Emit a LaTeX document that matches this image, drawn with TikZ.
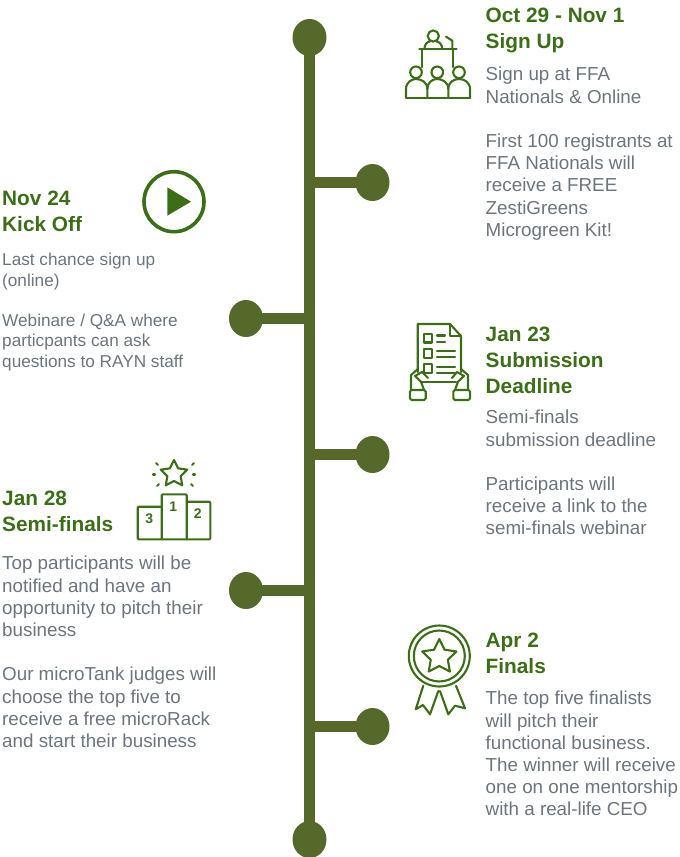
\documentclass[tikz,border=0pt]{standalone}
\usepackage{fontspec}
\setmainfont{Liberation Sans}
\usetikzlibrary{calc,shapes.geometric}
\definecolor{spine}{HTML}{55692B}
\definecolor{leaf}{HTML}{3B6E17}
\definecolor{body}{HTML}{6C757D}
\tikzset{
  x=1pt,y=-1pt,
  dot/.style={ellipse,fill=spine,minimum width=34pt,minimum height=37pt,inner sep=0pt},
  bar/.style={draw=spine,line width=11.5pt},
  ttl/.style={anchor=north west,inner sep=0pt,text=leaf,align=left,font=\fontsize{20.8}{26}\selectfont\bfseries},
  txt/.style={anchor=north west,inner sep=0pt,text=body,align=left,font=\fontsize{18.8}{22.2}\selectfont},
  txtsmall/.style={anchor=north west,inner sep=0pt,text=body,align=left,font=\fontsize{17.2}{20.5}\selectfont},
  ico/.style={draw=leaf,line width=2.1pt,line join=round,line cap=round,fill=none},
  num/.style={text=leaf,inner sep=0pt,font=\fontsize{14}{14}\selectfont\bfseries},
}
\newcommand{\starpath}[3]{% cx cy r
  \draw[ico] ($(#1,#2)+(-90:#3)$)
  \foreach \k in {1,...,9}{ -- ($(#1,#2)+({-90+36*\k}:{#3*(0.5+0.5*mod(\k+1,2))})$)} -- cycle;}
\begin{document}
\begin{tikzpicture}
\useasboundingbox (0,0) rectangle (680,857);
% timeline
\node[dot] (top) at (309.5,37.5) {};
\node[dot] (bot) at (309.5,839.5) {};
\node[dot] (d1) at (372.5,182.5) {};
\node[dot] (d2) at (246,318.5) {};
\node[dot] (d3) at (372.5,454.5) {};
\node[dot] (d4) at (246,590.5) {};
\node[dot] (d5) at (372.5,726.5) {};
\draw[bar] (top.center) -- (bot.center);
\foreach \d in {d1,d2,d3,d4,d5}{\draw[bar] (\d.center) -- (\d.center -| top);}
% texts
\node[ttl] (t1) at (485.5,8) {Oct 29 - Nov 1\\Sign Up};
\node[txt] (b1) at (485.5,67) {Sign up at FFA\\Nationals \& Online\\[22.2pt]First 100 registrants at\\FFA Nationals will\\receive a FREE\\ZestiGreens\\Microgreen Kit!};
\node[ttl] (t2) at (2,191) {Nov 24\\Kick Off};
\node[txtsmall] (b2) at (2,253) {Last chance sign up\\(online)\\[19.5pt]Webinare / Q\&A where\\particpants can ask\\questions to RAYN staff};
\node[ttl] (t3) at (485.5,327) {Jan 23\\Submission\\Deadline};
\node[txt] (b3) at (485.5,410) {Semi-finals\\submission deadline\\[22.2pt]Participants will\\receive a link to the\\semi-finals webinar};
\node[ttl] (t4) at (2,491) {Jan 28\\Semi-finals};
\node[txt] (b4) at (2,556) {Top participants will be\\notified and have an\\opportunity to pitch their\\business\\[22.2pt]Our microTank judges will\\choose the top five to\\receive a free microRack\\and start their business};
\node[ttl] (t5) at (485.5,633) {Apr 2\\Finals};
\node[txt] (b5) at (485.5,691) {The top five finalists\\will pitch their\\functional business.\\The winner will receive\\one on one mentorship\\with a real-life CEO};
% icon 1: audience
\draw[ico] (433.3,36) circle (5.6);
\draw[ico] (424.3,49.3) .. controls (424.5,43.5) and (428,41.5) .. (430,41.5);
\draw[ico] (442.3,49.3) .. controls (442,43.5) and (438.5,41.5) .. (436.5,41.5);
\draw[ico] (419.3,49.3) -- (456.7,49.3);
\draw[ico] (422.3,49.3) -- (422.3,67);
\draw[ico] (453.3,49.3) -- (453.3,67);
\draw[ico] (446,36.7) -- (452.3,40.7) -- (452.3,49.3);
\foreach \x in {416,437.3,459}{\draw[ico] (\x,72.3) circle (5.8);}
\draw[ico] (406,97.7) -- (470,97.7);
\draw[ico] (406,97.7) -- (406,89) .. controls (406,82) and (412,79) .. (416,79) .. controls (421,79) and (427.3,82) .. (427.3,89) -- (427.3,97.7);
\draw[ico] (427.3,89) .. controls (427.3,82) and (433,79) .. (437.3,79) .. controls (442,79) and (448.3,82) .. (448.3,89) -- (448.3,97.7);
\draw[ico] (448.3,89) .. controls (448.3,82) and (454,79) .. (459,79) .. controls (464,79) and (470,82) .. (470,89) -- (470,97.7);
% icon 2: document in hands
\draw[ico] (417.7,372) -- (417.7,324) -- (450,324) -- (461,336) -- (461,372);
\draw[ico] (450,324) -- (450,336) -- (461,336);
\foreach \y in {334,349.3,364.3}{\draw[ico] (424.3,\y) rectangle (432.3,\y+8.5);}
\draw[ico] (437,335.5) -- (445,335.5);
\draw[ico] (437,341.7) -- (445,341.7);
\draw[ico] (437,351.3) -- (455,351.3);
\draw[ico] (437,356.7) -- (455,356.7);
\draw[ico] (437,366.7) -- (455,366.7);
\draw[ico] (437,372.7) -- (455,372.7);
\draw[ico] (421,381.7) -- (456,381.7);
\draw[ico,rounded corners=1.5pt] (410,390) rectangle (425.7,400);
\draw[ico,rounded corners=1.5pt] (453.3,390) rectangle (470,400);
\draw[ico] (411,390) -- (411,375) -- (418,369);
\draw[ico] (424,390) -- (421,381.7) -- (415,376) -- (422,372) -- (428,378);
\draw[ico] (468,390) -- (468,375) -- (461,369);
\draw[ico] (455,390) -- (458,381.7) -- (464,376) -- (457,372) -- (452,378);
% icon 3: podium
\starpath{174}{474}{14}
\foreach \a/\b/\c/\d in {156/463/158/465,192/465/194/463,153/474.5/155/474.5,193/474.5/195/474.5,157/486/159/484,191/484/193/486}{\draw[ico] (\a,\b) -- (\c,\d);}
\draw[ico,rounded corners=1pt] (161.7,539.3) -- (161.7,494.3) -- (186.7,494.3) -- (186.7,539.3);
\draw[ico,rounded corners=1pt] (161.7,506.7) -- (137.7,506.7) -- (137.7,539.3) -- (210.3,539.3) -- (210.3,501.7) -- (186.7,501.7);
\node[num] (n1) at (173.3,506.7) {1};
\node[num] (n3) at (149.3,518.3) {3};
\node[num] (n2) at (197.7,514) {2};
% icon 4: rosette
\draw[ico] (439.3,656) circle (30.5);
\draw[ico] (439.3,656) circle (25.5);
\starpath{439.3}{657}{18}
\draw[ico] (423.3,685.7) -- (415.7,709.3) -- (423,705) -- (430,714.3) -- (438.3,691);
\draw[ico] (440,691) -- (448.3,714.3) -- (455,705.7) -- (465,708.3) -- (456,685.7);
% icon 5: play
\draw[draw=leaf,line width=3.6pt] (174,201.7) circle (30);
\fill[leaf] (167.3,187.3) -- (191,201.7) -- (167.3,215.7) -- cycle;
\end{tikzpicture}
\end{document}
